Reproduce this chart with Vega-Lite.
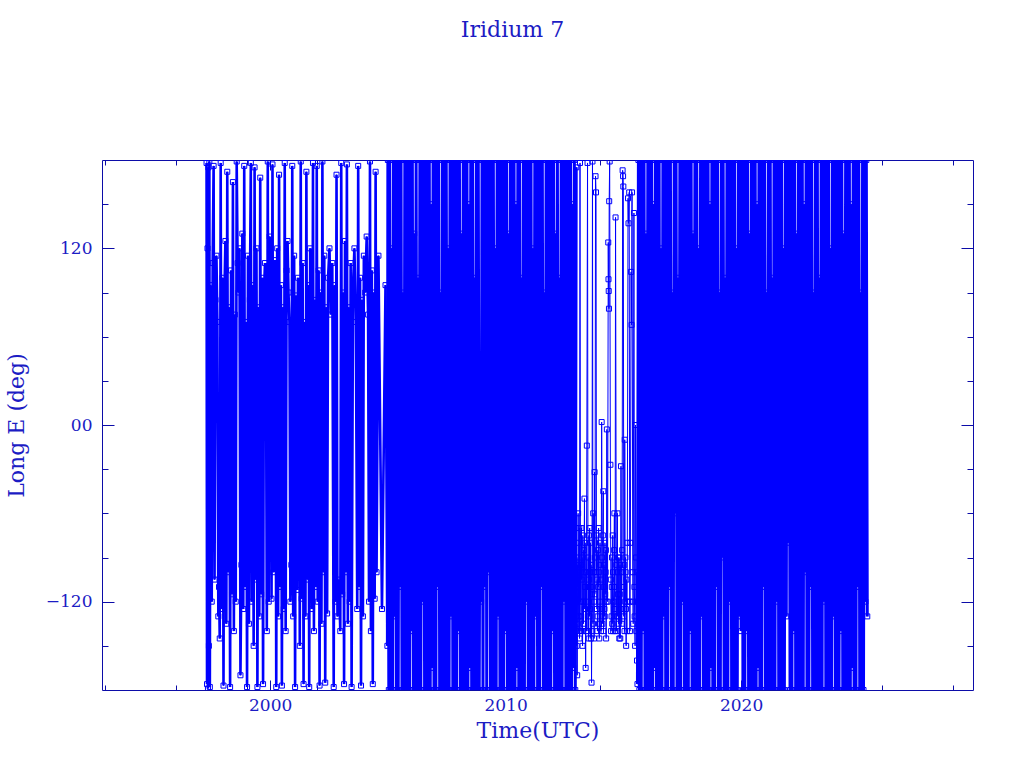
{
"$schema": "https://vega.github.io/schema/vega-lite/v6.json",
"width": 871, "height": 530,
"autosize": {"type": "none"},
"padding": {"left": 102, "top": 160, "right": 51, "bottom": 78},
"background": "white",
"title": {"text": "Iridium 7", "offset": 118, "dx": -25, "anchor": "middle"},
"data": {"values": [
{"t":1997.30,"l":178},{"t":1997.32,"l":-176},{"t":1997.34,"l":120},{"t":1997.36,"l":-179},{"t":1997.38,"l":175},{"t":1997.40,"l":-150},{"t":1997.42,"l":179},{"t":1997.44,"l":-178},{"t":1997.47,"l":95},{"t":1997.52,"l":-120},
{"t":1997.56,"l":110},{"t":1997.60,"l":176},{"t":1997.64,"l":-105},{"t":1997.68,"l":85},{"t":1997.72,"l":115},{"t":1997.76,"l":70},{"t":1997.80,"l":-130},{"t":1997.83,"l":-110},{"t":1997.86,"l":-145},{"t":1997.90,"l":178},
{"t":1997.94,"l":-125},{"t":1997.98,"l":100},{"t":1998.02,"l":-177},{"t":1998.06,"l":90},{"t":1998.10,"l":125},{"t":1998.14,"l":-135},{"t":1998.18,"l":172},{"t":1998.22,"l":-100},{"t":1998.26,"l":80},{"t":1998.30,"l":-178},
{"t":1998.34,"l":105},{"t":1998.38,"l":-115},{"t":1998.42,"l":165},{"t":1998.46,"l":-140},{"t":1998.50,"l":75},{"t":1998.54,"l":-120},{"t":1998.58,"l":179},{"t":1998.62,"l":110},{"t":1998.66,"l":90},{"t":1998.70,"l":120},
{"t":1998.74,"l":-170},{"t":1998.78,"l":-95},{"t":1998.82,"l":130},{"t":1998.86,"l":-125},{"t":1998.90,"l":176},{"t":1998.94,"l":-110},{"t":1998.98,"l":70},{"t":1999.02,"l":-178},{"t":1999.06,"l":115},{"t":1999.10,"l":-135},
{"t":1999.14,"l":85},{"t":1999.18,"l":178},{"t":1999.22,"l":-120},{"t":1999.26,"l":95},{"t":1999.30,"l":-150},{"t":1999.34,"l":175},{"t":1999.38,"l":-105},{"t":1999.42,"l":120},{"t":1999.46,"l":-178},{"t":1999.50,"l":80},
{"t":1999.54,"l":-130},{"t":1999.58,"l":168},{"t":1999.62,"l":-115},{"t":1999.66,"l":100},{"t":1999.70,"l":-176},{"t":1999.74,"l":90},{"t":1999.78,"l":110},{"t":1999.82,"l":75},{"t":1999.86,"l":-140},{"t":1999.90,"l":179},
{"t":1999.94,"l":-120},{"t":1999.98,"l":128},{"t":2000.02,"l":100},{"t":2000.06,"l":-118},{"t":2000.10,"l":177},{"t":2000.14,"l":-100},{"t":2000.18,"l":85},{"t":2000.22,"l":112},{"t":2000.26,"l":-178},{"t":2000.30,"l":120},
{"t":2000.34,"l":-130},{"t":2000.38,"l":170},{"t":2000.42,"l":-110},{"t":2000.46,"l":95},{"t":2000.50,"l":-177},{"t":2000.54,"l":80},{"t":2000.58,"l":-125},{"t":2000.62,"l":178},{"t":2000.66,"l":-140},{"t":2000.70,"l":105},
{"t":2000.74,"l":125},{"t":2000.78,"l":90},{"t":2000.82,"l":70},{"t":2000.86,"l":-120},{"t":2000.90,"l":-95},{"t":2000.94,"l":176},{"t":2000.98,"l":-130},{"t":2001.02,"l":115},{"t":2001.06,"l":-178},{"t":2001.10,"l":88},
{"t":2001.14,"l":-112},{"t":2001.18,"l":100},{"t":2001.22,"l":82},{"t":2001.26,"l":-150},{"t":2001.30,"l":179},{"t":2001.34,"l":-118},{"t":2001.38,"l":110},{"t":2001.42,"l":-176},{"t":2001.46,"l":70},{"t":2001.50,"l":-130},
{"t":2001.54,"l":172},{"t":2001.58,"l":-105},{"t":2001.62,"l":95},{"t":2001.66,"l":-178},{"t":2001.70,"l":120},{"t":2001.74,"l":78},{"t":2001.78,"l":-125},{"t":2001.82,"l":178},{"t":2001.86,"l":-140},{"t":2001.90,"l":85},
{"t":2001.94,"l":-110},{"t":2001.98,"l":176},{"t":2002.02,"l":-120},{"t":2002.06,"l":105},{"t":2002.10,"l":-177},{"t":2002.14,"l":90},{"t":2002.18,"l":-135},{"t":2002.22,"l":179},{"t":2002.26,"l":-100},{"t":2002.30,"l":115},
{"t":2002.34,"l":-175},{"t":2002.38,"l":80},{"t":2002.42,"l":-128},{"t":2002.46,"l":100},{"t":2002.52,"l":120},{"t":2002.58,"l":75},{"t":2002.64,"l":110},{"t":2002.70,"l":-178},{"t":2002.74,"l":95},{"t":2002.78,"l":-120},
{"t":2002.82,"l":170},{"t":2002.86,"l":-130},{"t":2002.92,"l":-105},{"t":2002.98,"l":-140},{"t":2003.02,"l":178},{"t":2003.06,"l":-115},{"t":2003.10,"l":90},{"t":2003.14,"l":-176},{"t":2003.18,"l":125},{"t":2003.22,"l":-100},
{"t":2003.26,"l":177},{"t":2003.30,"l":-135},{"t":2003.34,"l":80},{"t":2003.38,"l":-120},{"t":2003.42,"l":110},{"t":2003.46,"l":-178},{"t":2003.52,"l":95},{"t":2003.58,"l":120},{"t":2003.64,"l":70},{"t":2003.70,"l":-125},
{"t":2003.74,"l":176},{"t":2003.78,"l":-110},{"t":2003.82,"l":100},{"t":2003.86,"l":-177},{"t":2003.90,"l":85},{"t":2003.94,"l":-130},{"t":2003.98,"l":115},{"t":2004.04,"l":90},{"t":2004.10,"l":128},{"t":2004.16,"l":75},
{"t":2004.20,"l":-120},{"t":2004.24,"l":179},{"t":2004.28,"l":-140},{"t":2004.32,"l":105},{"t":2004.36,"l":-176},{"t":2004.40,"l":90},{"t":2004.44,"l":-118},{"t":2004.48,"l":172},{"t":2004.52,"l":-100},{"t":2004.60,"l":115},
{"t":2004.75,"l":-125},{"t":2004.90,"l":95},{"t":2004.98,"l":-150},
{"t":2005,"l":180},{"t":2005.04,"l":-180},{"t":2005.08,"l":180},{"t":2005.12,"l":-180},{"t":2005.16,"l":120},{"t":2005.2,"l":-180},{"t":2005.24,"l":180},{"t":2005.28,"l":-130},{"t":2005.32,"l":180},{"t":2005.36,"l":-180},
{"t":2005.4,"l":180},{"t":2005.44,"l":-180},{"t":2005.48,"l":180},{"t":2005.52,"l":-110},{"t":2005.56,"l":180},{"t":2005.6,"l":-180},{"t":2005.64,"l":90},{"t":2005.68,"l":-180},{"t":2005.72,"l":180},{"t":2005.76,"l":-180},
{"t":2005.8,"l":180},{"t":2005.84,"l":-180},{"t":2005.88,"l":180},{"t":2005.92,"l":-180},{"t":2005.96,"l":180},{"t":2006,"l":-140},{"t":2006.04,"l":180},{"t":2006.08,"l":-180},{"t":2006.12,"l":130},{"t":2006.16,"l":-180},
{"t":2006.2,"l":180},{"t":2006.24,"l":-180},{"t":2006.28,"l":100},{"t":2006.32,"l":-180},{"t":2006.36,"l":180},{"t":2006.4,"l":-180},{"t":2006.44,"l":180},{"t":2006.48,"l":-120},{"t":2006.52,"l":180},{"t":2006.56,"l":-180},
{"t":2006.6,"l":180},{"t":2006.64,"l":-180},{"t":2006.68,"l":180},{"t":2006.72,"l":-180},{"t":2006.76,"l":180},{"t":2006.8,"l":-180},{"t":2006.84,"l":150},{"t":2006.88,"l":-165},{"t":2006.92,"l":180},{"t":2006.96,"l":-180},
{"t":2007,"l":180},{"t":2007.04,"l":-180},{"t":2007.08,"l":180},{"t":2007.12,"l":-110},{"t":2007.16,"l":180},{"t":2007.2,"l":-180},{"t":2007.24,"l":90},{"t":2007.28,"l":-180},{"t":2007.32,"l":180},{"t":2007.36,"l":-180},
{"t":2007.4,"l":180},{"t":2007.44,"l":-180},{"t":2007.48,"l":180},{"t":2007.52,"l":-180},{"t":2007.56,"l":120},{"t":2007.6,"l":-180},{"t":2007.64,"l":180},{"t":2007.68,"l":-130},{"t":2007.72,"l":180},{"t":2007.76,"l":-180},
{"t":2007.8,"l":180},{"t":2007.84,"l":-180},{"t":2007.88,"l":180},{"t":2007.92,"l":-180},{"t":2007.96,"l":180},{"t":2008,"l":-140},{"t":2008.04,"l":180},{"t":2008.08,"l":-180},{"t":2008.12,"l":130},{"t":2008.16,"l":-180},
{"t":2008.2,"l":180},{"t":2008.24,"l":-180},{"t":2008.28,"l":180},{"t":2008.32,"l":-180},{"t":2008.36,"l":180},{"t":2008.4,"l":-180},{"t":2008.44,"l":150},{"t":2008.48,"l":-165},{"t":2008.52,"l":180},{"t":2008.56,"l":-180},
{"t":2008.6,"l":180},{"t":2008.64,"l":-180},{"t":2008.68,"l":100},{"t":2008.72,"l":-180},{"t":2008.76,"l":180},{"t":2008.8,"l":-180},{"t":2008.84,"l":180},{"t":2008.88,"l":-180},{"t":2008.92,"l":40},{"t":2008.96,"l":-120},
{"t":2009,"l":180},{"t":2009.04,"l":-180},{"t":2009.08,"l":180},{"t":2009.12,"l":-110},{"t":2009.16,"l":180},{"t":2009.2,"l":-180},{"t":2009.24,"l":180},{"t":2009.28,"l":-100},{"t":2009.32,"l":180},{"t":2009.36,"l":-180},
{"t":2009.4,"l":180},{"t":2009.44,"l":-180},{"t":2009.48,"l":180},{"t":2009.52,"l":-180},{"t":2009.56,"l":120},{"t":2009.6,"l":-180},{"t":2009.64,"l":180},{"t":2009.68,"l":-130},{"t":2009.72,"l":180},{"t":2009.76,"l":-180},
{"t":2009.8,"l":180},{"t":2009.84,"l":-180},{"t":2009.88,"l":180},{"t":2009.92,"l":-180},{"t":2009.96,"l":180},{"t":2010,"l":-140},{"t":2010.04,"l":180},{"t":2010.08,"l":-180},{"t":2010.12,"l":130},{"t":2010.16,"l":-180},
{"t":2010.2,"l":180},{"t":2010.24,"l":-180},{"t":2010.28,"l":180},{"t":2010.32,"l":-180},{"t":2010.36,"l":180},{"t":2010.4,"l":-180},{"t":2010.44,"l":150},{"t":2010.48,"l":-165},{"t":2010.52,"l":180},{"t":2010.56,"l":-180},
{"t":2010.6,"l":180},{"t":2010.64,"l":-180},{"t":2010.68,"l":100},{"t":2010.72,"l":-180},{"t":2010.76,"l":180},{"t":2010.8,"l":-180},{"t":2010.84,"l":180},{"t":2010.88,"l":-120},{"t":2010.92,"l":180},{"t":2010.96,"l":-180},
{"t":2011,"l":180},{"t":2011.04,"l":-180},{"t":2011.08,"l":180},{"t":2011.12,"l":-180},{"t":2011.16,"l":120},{"t":2011.2,"l":-180},{"t":2011.24,"l":180},{"t":2011.28,"l":-130},{"t":2011.32,"l":180},{"t":2011.36,"l":-180},
{"t":2011.4,"l":180},{"t":2011.44,"l":-180},{"t":2011.48,"l":180},{"t":2011.52,"l":-110},{"t":2011.56,"l":180},{"t":2011.6,"l":-180},{"t":2011.64,"l":90},{"t":2011.68,"l":-180},{"t":2011.72,"l":180},{"t":2011.76,"l":-180},
{"t":2011.8,"l":180},{"t":2011.84,"l":-180},{"t":2011.88,"l":180},{"t":2011.92,"l":-180},{"t":2011.96,"l":180},{"t":2012,"l":-140},{"t":2012.04,"l":180},{"t":2012.08,"l":-180},{"t":2012.12,"l":130},{"t":2012.16,"l":-180},
{"t":2012.2,"l":180},{"t":2012.24,"l":-180},{"t":2012.28,"l":100},{"t":2012.32,"l":-180},{"t":2012.36,"l":180},{"t":2012.4,"l":-180},{"t":2012.44,"l":180},{"t":2012.48,"l":-120},{"t":2012.52,"l":180},{"t":2012.56,"l":-180},
{"t":2012.6,"l":180},{"t":2012.64,"l":-180},{"t":2012.68,"l":180},{"t":2012.72,"l":-180},{"t":2012.76,"l":180},{"t":2012.8,"l":-180},{"t":2012.84,"l":150},{"t":2012.88,"l":-165},{"t":2012.92,"l":180},{"t":2012.96,"l":-180},
{"t":2013.00,"l":175},{"t":2013.02,"l":-150},{"t":2013.04,"l":-170},{"t":2013.06,"l":-95},{"t":2013.08,"l":-60},{"t":2013.10,"l":-130},{"t":2013.12,"l":-100},{"t":2013.14,"l":-145},{"t":2013.16,"l":178},{"t":2013.18,"l":-120},
{"t":2013.20,"l":-140},{"t":2013.22,"l":-70},{"t":2013.25,"l":-90},{"t":2013.27,"l":-150},{"t":2013.30,"l":-120},{"t":2013.32,"l":-85},{"t":2013.35,"l":-50},{"t":2013.37,"l":-110},{"t":2013.40,"l":-165},{"t":2013.42,"l":-100},
{"t":2013.45,"l":-14},{"t":2013.48,"l":178},{"t":2013.50,"l":-140},{"t":2013.52,"l":-110},{"t":2013.54,"l":-75},{"t":2013.56,"l":-130},{"t":2013.58,"l":-100},{"t":2013.60,"l":-80},{"t":2013.62,"l":-145},{"t":2013.65,"l":-175},
{"t":2013.67,"l":-115},{"t":2013.69,"l":179},{"t":2013.71,"l":-135},{"t":2013.72,"l":-60},{"t":2013.75,"l":-120},{"t":2013.78,"l":-32},{"t":2013.80,"l":-90},{"t":2013.82,"l":169},{"t":2013.84,"l":158},{"t":2013.86,"l":-100},
{"t":2013.88,"l":-125},{"t":2013.90,"l":-140},{"t":2013.92,"l":-85},{"t":2013.95,"l":-70},{"t":2013.97,"l":-135},{"t":2014.00,"l":-120},{"t":2014.02,"l":-95},{"t":2014.05,"l":-140},{"t":2014.08,"l":2},{"t":2014.10,"l":-90},
{"t":2014.12,"l":-130},{"t":2014.15,"l":-45},{"t":2014.17,"l":-110},{"t":2014.20,"l":-125},{"t":2014.22,"l":-80},{"t":2014.25,"l":-100},{"t":2014.27,"l":-145},{"t":2014.30,"l":-3},{"t":2014.33,"l":-120},{"t":2014.36,"l":124},
{"t":2014.37,"l":99},{"t":2014.38,"l":91},{"t":2014.39,"l":79},{"t":2014.40,"l":152},{"t":2014.42,"l":179},{"t":2014.45,"l":-27},{"t":2014.47,"l":-105},{"t":2014.50,"l":-130},{"t":2014.52,"l":-90},{"t":2014.55,"l":-75},
{"t":2014.57,"l":-140},{"t":2014.60,"l":-110},{"t":2014.62,"l":-60},{"t":2014.65,"l":-140},{"t":2014.67,"l":141},{"t":2014.70,"l":-95},{"t":2014.72,"l":-130},{"t":2014.75,"l":-60},{"t":2014.77,"l":-115},{"t":2014.80,"l":-135},
{"t":2014.82,"l":-90},{"t":2014.85,"l":-115},{"t":2014.87,"l":-145},{"t":2014.90,"l":-28},{"t":2014.92,"l":-100},{"t":2014.95,"l":-85},{"t":2014.97,"l":173},{"t":2014.99,"l":169},{"t":2015.00,"l":162},{"t":2015.02,"l":-130},
{"t":2015.04,"l":-95},{"t":2015.06,"l":-10},{"t":2015.08,"l":-120},{"t":2015.10,"l":-100},{"t":2015.12,"l":-150},{"t":2015.15,"l":-140},{"t":2015.17,"l":-80},{"t":2015.20,"l":154},{"t":2015.22,"l":137},{"t":2015.25,"l":158},
{"t":2015.27,"l":-120},{"t":2015.30,"l":-80},{"t":2015.33,"l":104},{"t":2015.35,"l":68},{"t":2015.37,"l":158},{"t":2015.40,"l":-100},{"t":2015.42,"l":-135},{"t":2015.45,"l":144},{"t":2015.47,"l":-110},{"t":2015.50,"l":-150},
{"t":2015.52,"l":0},{"t":2015.54,"l":-90},{"t":2015.56,"l":-120},{"t":2015.58,"l":-160},{"t":2015.60,"l":-176},
{"t":2013.01,"l":-120},{"t":2013.03,"l":-90},{"t":2013.05,"l":-135},{"t":2013.07,"l":-110},{"t":2013.09,"l":-80},{"t":2013.11,"l":-140},{"t":2013.13,"l":-70},{"t":2013.19,"l":-95},{"t":2013.21,"l":-130},{"t":2013.23,"l":-105},
{"t":2013.26,"l":-140},{"t":2013.28,"l":-75},{"t":2013.31,"l":-135},{"t":2013.33,"l":-100},{"t":2013.36,"l":-125},{"t":2013.38,"l":-80},{"t":2013.41,"l":-120},{"t":2013.43,"l":-140},{"t":2013.51,"l":-90},{"t":2013.53,"l":-145},
{"t":2013.55,"l":-105},{"t":2013.57,"l":-70},{"t":2013.59,"l":-125},{"t":2013.61,"l":-110},{"t":2013.63,"l":-95},{"t":2013.66,"l":-140},{"t":2013.74,"l":-100},{"t":2013.76,"l":-145},{"t":2013.79,"l":-115},{"t":2013.87,"l":-75},
{"t":2013.89,"l":-105},{"t":2013.91,"l":-130},{"t":2013.93,"l":-110},{"t":2013.96,"l":-100},{"t":2013.98,"l":-145},{"t":2014.01,"l":-80},{"t":2014.03,"l":-125},{"t":2014.06,"l":-105},{"t":2014.11,"l":-135},{"t":2014.13,"l":-75},
{"t":2014.16,"l":-140},{"t":2014.18,"l":-95},{"t":2014.21,"l":-130},{"t":2014.23,"l":-115},{"t":2014.26,"l":-85},{"t":2014.28,"l":-120},{"t":2014.48,"l":-140},{"t":2014.51,"l":-110},{"t":2014.53,"l":-135},{"t":2014.56,"l":-100},
{"t":2014.58,"l":-120},{"t":2014.61,"l":-85},{"t":2014.63,"l":-125},{"t":2014.71,"l":-140},{"t":2014.73,"l":-100},{"t":2014.76,"l":-130},{"t":2014.78,"l":-90},{"t":2014.81,"l":-120},{"t":2014.83,"l":-145},{"t":2014.86,"l":-95},
{"t":2014.88,"l":-125},{"t":2014.93,"l":-135},{"t":2015.03,"l":-110},{"t":2015.05,"l":-140},{"t":2015.09,"l":-90},{"t":2015.11,"l":-125},{"t":2015.13,"l":-105},{"t":2015.16,"l":-120},{"t":2015.28,"l":-140},{"t":2015.41,"l":-120},
{"t":2015.48,"l":-130},{"t":2015.55,"l":-140},{"t":2015.57,"l":-100},
{"t":2015.64,"l":180},{"t":2015.68,"l":-180},{"t":2015.72,"l":180},{"t":2015.76,"l":-180},{"t":2015.8,"l":180},{"t":2015.84,"l":-140},{"t":2015.88,"l":180},{"t":2015.92,"l":-180},{"t":2015.96,"l":130},{"t":2016,"l":-180},
{"t":2016.04,"l":180},{"t":2016.08,"l":-180},{"t":2016.12,"l":180},{"t":2016.16,"l":-180},{"t":2016.2,"l":180},{"t":2016.24,"l":-180},{"t":2016.28,"l":150},{"t":2016.32,"l":-165},{"t":2016.36,"l":180},{"t":2016.4,"l":-180},
{"t":2016.44,"l":180},{"t":2016.48,"l":-180},{"t":2016.52,"l":180},{"t":2016.56,"l":-180},{"t":2016.6,"l":120},{"t":2016.64,"l":-180},{"t":2016.68,"l":180},{"t":2016.72,"l":-130},{"t":2016.76,"l":180},{"t":2016.8,"l":-180},
{"t":2016.84,"l":180},{"t":2016.88,"l":-180},{"t":2016.92,"l":180},{"t":2016.96,"l":-110},{"t":2017,"l":180},{"t":2017.04,"l":-180},{"t":2017.08,"l":90},{"t":2017.12,"l":-180},{"t":2017.16,"l":180},{"t":2017.2,"l":-60},
{"t":2017.24,"l":180},{"t":2017.28,"l":-180},{"t":2017.32,"l":100},{"t":2017.36,"l":-180},{"t":2017.4,"l":180},{"t":2017.44,"l":-180},{"t":2017.48,"l":180},{"t":2017.52,"l":-120},{"t":2017.56,"l":180},{"t":2017.6,"l":-180},
{"t":2017.64,"l":180},{"t":2017.68,"l":-180},{"t":2017.72,"l":180},{"t":2017.76,"l":-180},{"t":2017.8,"l":180},{"t":2017.84,"l":-140},{"t":2017.88,"l":180},{"t":2017.92,"l":-180},{"t":2017.96,"l":130},{"t":2018,"l":-180},
{"t":2018.04,"l":180},{"t":2018.08,"l":-180},{"t":2018.12,"l":180},{"t":2018.16,"l":-180},{"t":2018.2,"l":120},{"t":2018.24,"l":-180},{"t":2018.28,"l":180},{"t":2018.32,"l":-130},{"t":2018.36,"l":180},{"t":2018.4,"l":-180},
{"t":2018.44,"l":180},{"t":2018.48,"l":-180},{"t":2018.52,"l":180},{"t":2018.56,"l":-180},{"t":2018.6,"l":180},{"t":2018.64,"l":-180},{"t":2018.68,"l":150},{"t":2018.72,"l":-165},{"t":2018.76,"l":180},{"t":2018.8,"l":-180},
{"t":2018.84,"l":180},{"t":2018.88,"l":-180},{"t":2018.92,"l":180},{"t":2018.96,"l":-110},{"t":2019,"l":180},{"t":2019.04,"l":-180},{"t":2019.08,"l":90},{"t":2019.12,"l":-180},{"t":2019.16,"l":180},{"t":2019.2,"l":-90},
{"t":2019.24,"l":180},{"t":2019.28,"l":-180},{"t":2019.32,"l":100},{"t":2019.36,"l":-180},{"t":2019.4,"l":180},{"t":2019.44,"l":-180},{"t":2019.48,"l":180},{"t":2019.52,"l":-120},{"t":2019.56,"l":180},{"t":2019.6,"l":-180},
{"t":2019.64,"l":180},{"t":2019.68,"l":-180},{"t":2019.72,"l":180},{"t":2019.76,"l":-180},{"t":2019.8,"l":120},{"t":2019.84,"l":-180},{"t":2019.88,"l":180},{"t":2019.92,"l":-130},{"t":2019.96,"l":180},{"t":2020,"l":-140},
{"t":2020.04,"l":180},{"t":2020.08,"l":-180},{"t":2020.12,"l":180},{"t":2020.16,"l":-180},{"t":2020.2,"l":180},{"t":2020.24,"l":-140},{"t":2020.28,"l":180},{"t":2020.32,"l":-180},{"t":2020.36,"l":130},{"t":2020.4,"l":-180},
{"t":2020.44,"l":180},{"t":2020.48,"l":-180},{"t":2020.52,"l":180},{"t":2020.56,"l":-180},{"t":2020.6,"l":180},{"t":2020.64,"l":-180},{"t":2020.68,"l":150},{"t":2020.72,"l":-165},{"t":2020.76,"l":180},{"t":2020.8,"l":-180},
{"t":2020.84,"l":180},{"t":2020.88,"l":-180},{"t":2020.92,"l":180},{"t":2020.96,"l":-110},{"t":2021,"l":180},{"t":2021.04,"l":-180},{"t":2021.08,"l":90},{"t":2021.12,"l":-180},{"t":2021.16,"l":180},{"t":2021.2,"l":-180},
{"t":2021.24,"l":180},{"t":2021.28,"l":-180},{"t":2021.32,"l":100},{"t":2021.36,"l":-180},{"t":2021.4,"l":180},{"t":2021.44,"l":-180},{"t":2021.48,"l":180},{"t":2021.52,"l":-120},{"t":2021.56,"l":180},{"t":2021.6,"l":-180},
{"t":2021.64,"l":180},{"t":2021.68,"l":-180},{"t":2021.72,"l":180},{"t":2021.76,"l":-180},{"t":2021.8,"l":120},{"t":2021.84,"l":-180},{"t":2021.88,"l":180},{"t":2021.92,"l":-130},{"t":2021.96,"l":180},{"t":2022,"l":-80},
{"t":2022.04,"l":180},{"t":2022.08,"l":-180},{"t":2022.12,"l":180},{"t":2022.16,"l":-180},{"t":2022.2,"l":180},{"t":2022.24,"l":-140},{"t":2022.28,"l":180},{"t":2022.32,"l":-180},{"t":2022.36,"l":130},{"t":2022.4,"l":-180},
{"t":2022.44,"l":180},{"t":2022.48,"l":-180},{"t":2022.52,"l":180},{"t":2022.56,"l":-180},{"t":2022.6,"l":180},{"t":2022.64,"l":-180},{"t":2022.68,"l":150},{"t":2022.72,"l":-100},{"t":2022.76,"l":180},{"t":2022.8,"l":-180},
{"t":2022.84,"l":180},{"t":2022.88,"l":-180},{"t":2022.92,"l":180},{"t":2022.96,"l":-110},{"t":2023,"l":180},{"t":2023.04,"l":-180},{"t":2023.08,"l":90},{"t":2023.12,"l":-180},{"t":2023.16,"l":180},{"t":2023.2,"l":-180},
{"t":2023.24,"l":180},{"t":2023.28,"l":-180},{"t":2023.32,"l":100},{"t":2023.36,"l":-180},{"t":2023.4,"l":180},{"t":2023.44,"l":-180},{"t":2023.48,"l":180},{"t":2023.52,"l":-120},{"t":2023.56,"l":180},{"t":2023.6,"l":-180},
{"t":2023.64,"l":180},{"t":2023.68,"l":-180},{"t":2023.72,"l":180},{"t":2023.76,"l":-180},{"t":2023.8,"l":120},{"t":2023.84,"l":-180},{"t":2023.88,"l":180},{"t":2023.92,"l":-130},{"t":2023.96,"l":180},{"t":2024,"l":-180},
{"t":2024.04,"l":180},{"t":2024.08,"l":-180},{"t":2024.12,"l":180},{"t":2024.16,"l":-180},{"t":2024.2,"l":180},{"t":2024.24,"l":-140},{"t":2024.28,"l":180},{"t":2024.32,"l":-180},{"t":2024.36,"l":130},{"t":2024.4,"l":-180},
{"t":2024.44,"l":180},{"t":2024.48,"l":-180},{"t":2024.52,"l":180},{"t":2024.56,"l":-180},{"t":2024.6,"l":180},{"t":2024.64,"l":-180},{"t":2024.68,"l":150},{"t":2024.72,"l":-165},{"t":2024.76,"l":180},{"t":2024.8,"l":-180},
{"t":2024.84,"l":180},{"t":2024.88,"l":-180},{"t":2024.92,"l":180},{"t":2024.96,"l":-110},{"t":2025,"l":180},{"t":2025.04,"l":-180},{"t":2025.08,"l":90},{"t":2025.12,"l":-180},{"t":2025.16,"l":180},{"t":2025.2,"l":-180},
{"t":2025.24,"l":180},{"t":2025.28,"l":-120},{"t":2025.32,"l":180},{"t":2025.36,"l":-130}
]},
"layer": [
{
"mark": {"type": "line", "color": "#0000ff", "strokeWidth": 1, "clip": true},
"encoding": {
"x": {"field": "t", "type": "quantitative", "scale": {"domain": [1992.86, 2029.85], "nice": false, "zero": false},
"axis": {"orient": "bottom", "values": [2000, 2010, 2020], "format": "d", "tickSize": -10, "labelPadding": 17, "title": "Time(UTC)", "titlePadding": 7, "domain": true}},
"y": {"field": "l", "type": "quantitative", "scale": {"domain": [-180, 180], "nice": false, "zero": false},
"axis": {"orient": "left", "values": [-120, 0, 120], "labelExpr": "datum.value == 0 ? '00' : (datum.value < 0 ? '−' + (-datum.value) : '' + datum.value)", "tickSize": -12, "labelPadding": 22, "title": "Long E (deg)", "titlePadding": 17, "domain": true}}
}
},
{
"transform": [{"filter": "datum.t < 2005"}],
"mark": {"type": "line", "color": "#0000ff", "strokeWidth": 2.6, "clip": true},
"encoding": {
"x": {"field": "t", "type": "quantitative", "scale": {"domain": [1992.86, 2029.85], "nice": false, "zero": false}, "axis": null},
"y": {"field": "l", "type": "quantitative", "scale": {"domain": [-180, 180], "nice": false, "zero": false}, "axis": null}
}
},
{
"transform": [{"filter": "datum.t >= 2004.98 && datum.t <= 2013"}],
"mark": {"type": "line", "color": "#0000ff", "strokeWidth": 3, "clip": true},
"encoding": {
"x": {"field": "t", "type": "quantitative", "scale": {"domain": [1992.86, 2029.85], "nice": false, "zero": false}, "axis": null},
"y": {"field": "l", "type": "quantitative", "scale": {"domain": [-180, 180], "nice": false, "zero": false}, "axis": null}
}
},
{
"transform": [{"filter": "datum.t >= 2015.6"}],
"mark": {"type": "line", "color": "#0000ff", "strokeWidth": 3, "clip": true},
"encoding": {
"x": {"field": "t", "type": "quantitative", "scale": {"domain": [1992.86, 2029.85], "nice": false, "zero": false}, "axis": null},
"y": {"field": "l", "type": "quantitative", "scale": {"domain": [-180, 180], "nice": false, "zero": false}, "axis": null}
}
},
{
"mark": {"type": "point", "shape": "square", "size": 25, "filled": false, "color": "#0000ff", "strokeWidth": 1, "opacity": 1, "clip": true},
"encoding": {
"x": {"field": "t", "type": "quantitative", "scale": {"domain": [1992.86, 2029.85], "nice": false, "zero": false},
"axis": {"orient": "bottom", "values": [1993, 1996, 1999, 2002, 2005, 2008, 2011, 2014, 2017, 2020, 2023, 2026, 2029], "tickSize": -5, "labels": false, "domain": false, "title": null}},
"y": {"field": "l", "type": "quantitative", "scale": {"domain": [-180, 180], "nice": false, "zero": false},
"axis": {"orient": "left", "values": [-150, -90, -60, -30, 30, 60, 90, 150], "tickSize": -6, "labels": false, "domain": false, "title": null}}
}
},
{
"mark": {"type": "point", "opacity": 0, "size": 1},
"encoding": {
"x": {"field": "t", "type": "quantitative", "scale": {"domain": [1992.86, 2029.85], "nice": false, "zero": false},
"axis": {"orient": "top", "values": [2000, 2010, 2020], "tickSize": -10, "labels": false, "domain": true, "title": null}},
"y": {"field": "l", "type": "quantitative", "scale": {"domain": [-180, 180], "nice": false, "zero": false},
"axis": {"orient": "right", "values": [-120, 0, 120], "tickSize": -12, "labels": false, "domain": true, "title": null}}
}
},
{
"mark": {"type": "point", "opacity": 0, "size": 1},
"encoding": {
"x": {"field": "t", "type": "quantitative", "scale": {"domain": [1992.86, 2029.85], "nice": false, "zero": false},
"axis": {"orient": "top", "values": [1993, 1996, 1999, 2002, 2005, 2008, 2011, 2014, 2017, 2020, 2023, 2026, 2029], "tickSize": -5, "labels": false, "domain": false, "title": null}},
"y": {"field": "l", "type": "quantitative", "scale": {"domain": [-180, 180], "nice": false, "zero": false},
"axis": {"orient": "right", "values": [-150, -90, -60, -30, 30, 60, 90, 150], "tickSize": -6, "labels": false, "domain": false, "title": null}}
}
}
],
"resolve": {"axis": {"x": "independent", "y": "independent"}},
"config": {
"view": {"stroke": null},
"axis": {"grid": false, "domainColor": "#0c0ca8", "tickColor": "#0c0ca8", "domainWidth": 1, "tickWidth": 1, "labelColor": "#1c1cc4", "titleColor": "#1c1cc4", "labelFont": "DejaVu Serif", "titleFont": "DejaVu Serif", "labelFontSize": 17, "titleFontSize": 22, "titleFontWeight": "normal", "labelFlush": false, "labelOverlap": false},
"title": {"font": "DejaVu Serif", "fontSize": 22, "fontWeight": "normal", "color": "#1c1cc4"}
}
}
